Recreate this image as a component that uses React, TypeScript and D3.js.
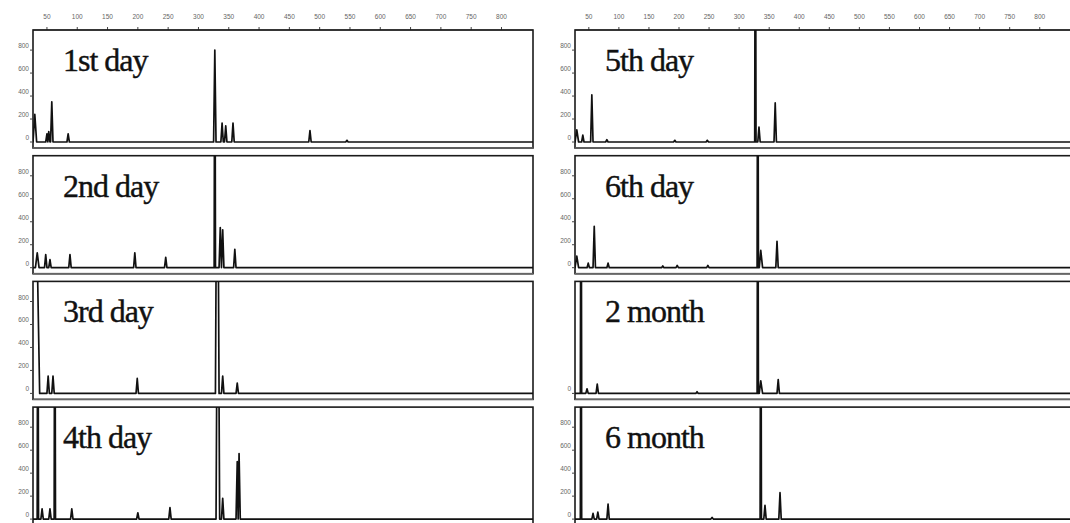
import React from "react";
import * as d3 from "d3";

// fragment size scale (bp) along the top, signal scale on the left
const sizeTicks = [50, 100, 150, 200, 250, 300, 350, 400, 450, 500, 550, 600, 650, 700, 750, 800];
const signalTicks = [0, 200, 400, 600, 800];

const panelNames = ["1st day", "2nd day", "3rd day", "4th day", "5th day", "6th day", "2 month", "6 month"];

// peaks: [size, height, half-width?]  heights above 975 run off scale
const peaks1stDay = [[30, 240, 3], [50, 70], [53, 90], [58, 350], [85, 70], [327, 800], [339, 165], [345, 140], [357, 165], [484, 100], [545, 15]];
const peaks2ndDay = [[34, 130, 3], [48, 115], [55, 70], [88, 115], [195, 130], [246, 90], [327, 3000], [336, 350], [340, 330], [360, 160]];
const peaks3rdDay = [[28, 3000, 10], [52, 150], [60, 150], [199, 130], [331, 3000, 3], [340, 150], [364, 90]];
const peaks4thDay = [[35, 3000], [42, 90], [55, 90], [63, 3000], [91, 90], [200, 55], [253, 100], [332, 3000, 3], [340, 180], [364, 500], [367, 570]];
const peaks5thDay = [[30, 105, 3], [40, 60], [55, 410], [80, 20], [193, 15], [247, 15], [327, 3000], [333, 130], [360, 340]];
const peaks6thDay = [[30, 100, 3], [49, 40], [59, 360], [82, 40], [173, 15], [197, 20], [248, 20], [331, 3000], [336, 150, 3], [363, 230]];
const peaks2Month = [[37, 3000], [47, 40], [64, 80], [230, 15], [331, 3000], [336, 110, 3], [365, 120]];
const peaks6Month = [[37, 3000], [57, 50], [65, 60], [82, 130], [255, 15], [336, 3000], [343, 120], [368, 230]];

const allPeaks = [peaks1stDay, peaks2ndDay, peaks3rdDay, peaks4thDay, peaks5thDay, peaks6thDay, peaks2Month, peaks6Month];
// which panels carry signal labels
const labelledTicks = [signalTicks, signalTicks, signalTicks, signalTicks, signalTicks, signalTicks, [0], signalTicks];

const SIZE_MIN = 27;
const SIZE_MAX = 852;
const SIGNAL_MAX = 975;

function tracePoints(peaks: number[][]) {
  const sorted = [...peaks].sort((a, b) => a[0] - b[0]);
  const pts: [number, number][] = [[0, 0]];
  sorted.forEach((p, i) => {
    const w = p[2] ?? (p[1] > SIGNAL_MAX ? 1.1 : 2);
    const prev = sorted[i - 1];
    const next = sorted[i + 1];
    let l = p[0] - w;
    let r = p[0] + w;
    if (prev) l = Math.max(l, (prev[0] + p[0]) / 2);
    if (next) r = Math.min(r, (p[0] + next[0]) / 2);
    pts.push([l, 0], [p[0], p[1]], [r, 0]);
  });
  pts.push([SIZE_MAX + 20, 0]);
  return pts;
}

export default function App() {
  const width = 1070;
  const height = 523;
  const colRanges = [[33, 533], [575, 1071]];
  const plotH = 112;
  const top0 = 30;
  const rowStep = 125.7;

  const xScales = colRanges.map((r) => d3.scaleLinear().domain([SIZE_MIN, SIZE_MAX]).range(r));

  return (
    <svg
      width={width}
      height={height}
      style={{ position: "absolute", left: 0, top: 0, background: "#fff" }}
      fontFamily="Liberation Sans, Arial, sans-serif"
    >
      {/* top size axes */}
      {xScales.map((x, c) => (
        <g key={"ax" + c}>
          <line x1={x(SIZE_MIN)} x2={x(SIZE_MAX)} y1={top0} y2={top0} stroke="#555" strokeWidth={1.2} />
          {sizeTicks.map((t) => (
            <g key={t}>
              <line x1={x(t)} x2={x(t)} y1={top0} y2={top0 - 3} stroke="#444" strokeWidth={1} />
              <text x={x(t)} y={top0 - 11} fontSize={6.5} textAnchor="middle" fill="#666">
                {t}
              </text>
            </g>
          ))}
        </g>
      ))}

      {allPeaks.map((peaks, i) => {
        const col = i < 4 ? 0 : 1;
        const row = i % 4;
        const x = xScales[col];
        const top = top0 + row * rowStep;
        const y = d3.scaleLinear().domain([0, SIGNAL_MAX]).range([top + plotH, top]);
        const line = d3
          .line<[number, number]>()
          .x((d) => x(d[0]))
          .y((d) => y(d[1]));
        const x0 = x(SIZE_MIN);
        const x1 = x(SIZE_MAX);
        const clipId = "clip" + i;
        return (
          <g key={i}>
            <defs>
              <clipPath id={clipId}>
                <rect x={x0} y={top} width={x1 - x0} height={plotH + 2} />
              </clipPath>
            </defs>
            <rect x={x0} y={top} width={x1 - x0} height={plotH + 6} fill="none" stroke="#1a1a1a" strokeWidth={1.6} />
            <line x1={x0} x2={x1} y1={top + plotH + 6} y2={top + plotH + 6} stroke="#666" strokeWidth={1.4} />
            {labelledTicks[i].map((t) => (
              <g key={t}>
                <line x1={x0} x2={x0 - 3} y1={y(t)} y2={y(t)} stroke="#444" />
                <text x={x0 - 4} y={y(t) - 2} fontSize={6.5} textAnchor="end" fill="#666">
                  {t}
                </text>
              </g>
            ))}
            <path
              d={line(tracePoints(peaks)) ?? ""}
              clipPath={`url(#${clipId})`}
              fill="none"
              stroke="#111"
              strokeWidth={1.7}
              strokeLinejoin="round"
            />
            <text
              x={x0 + 30}
              y={top + 41}
              fontFamily="Liberation Serif, Times New Roman, serif"
              fontSize={32}
              letterSpacing={-1}
              fill="#111"
              stroke="#111"
              strokeWidth={0.4}
            >
              {panelNames[i]}
            </text>
          </g>
        );
      })}
    </svg>
  );
}
